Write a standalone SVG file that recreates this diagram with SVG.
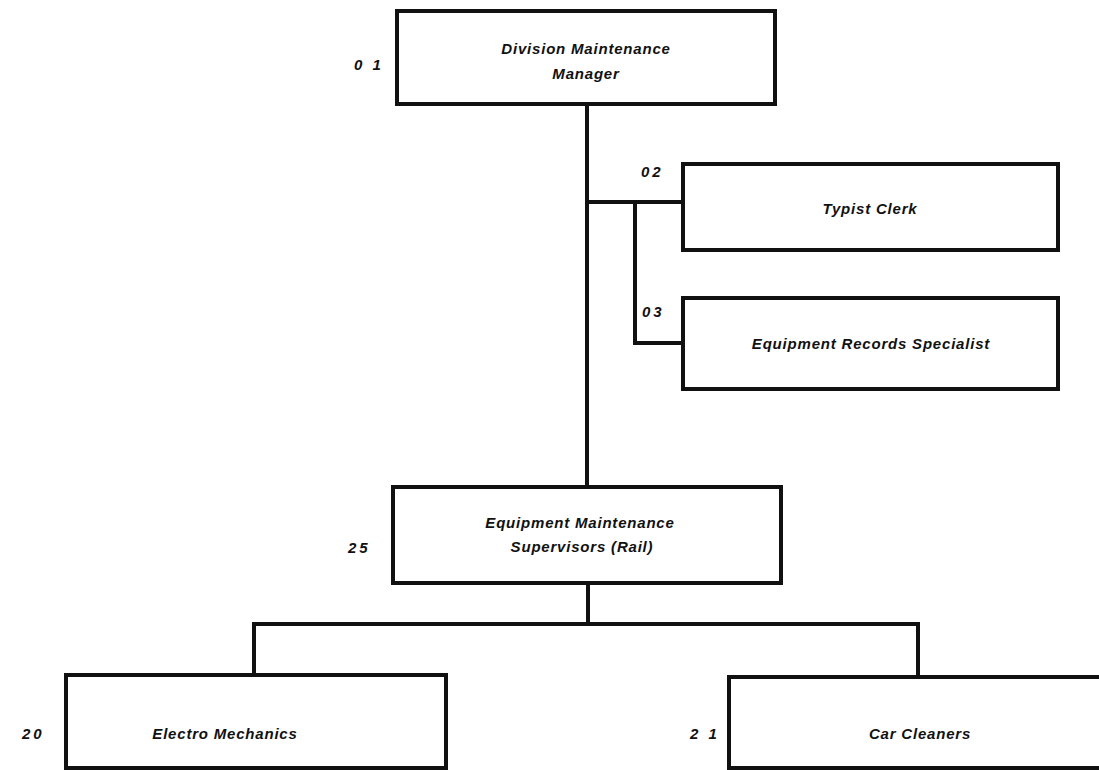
<svg xmlns="http://www.w3.org/2000/svg" width="1099" height="770" viewBox="0 0 1099 770">
  <style>
    .box { fill: #ffffff; stroke: #111111; stroke-width: 4; }
    .wire { fill: none; stroke: #111111; stroke-width: 4; stroke-linecap: square; }
    .title { font-family: "Liberation Sans", Arial, sans-serif; font-weight: bold; font-style: italic; font-size: 15px; fill: #111111; text-anchor: middle; letter-spacing: 0.8px; }
    .code { font-family: "Liberation Sans", Arial, sans-serif; font-weight: bold; font-style: italic; font-size: 15px; fill: #111111; letter-spacing: 3px; }
  </style>
  <rect width="1099" height="770" fill="#ffffff"/>

  <!-- reporting lines -->
  <g id="connectors">
    <path class="wire" d="M587,104 V487"/>
    <path class="wire" d="M587,202 H683"/>
    <path class="wire" d="M635,202 V343 H683"/>
    <path class="wire" d="M588,583 V624"/>
    <path class="wire" d="M254,624 H918"/>
    <path class="wire" d="M254,624 V675"/>
    <path class="wire" d="M918,624 V677"/>
  </g>

  <g id="node-01">
    <rect class="box" x="397" y="11" width="378" height="93"/>
    <text class="title" x="586" y="54">Division Maintenance</text>
    <text class="title" x="586" y="79">Manager</text>
    <text class="code" x="354" y="70">0 1</text>
  </g>

  <g id="node-02">
    <rect class="box" x="683" y="164" width="375" height="86"/>
    <text class="title" x="870" y="214">Typist  Clerk</text>
    <text class="code" x="641" y="177">02</text>
  </g>

  <g id="node-03">
    <rect class="box" x="683" y="298" width="375" height="91"/>
    <text class="title" x="871" y="349">Equipment Records Specialist</text>
    <text class="code" x="642" y="317">03</text>
  </g>

  <g id="node-25">
    <rect class="box" x="393" y="487" width="388" height="96"/>
    <text class="title" x="580" y="528">Equipment Maintenance</text>
    <text class="title" x="582" y="552">Supervisors (Rail)</text>
    <text class="code" x="348" y="553">25</text>
  </g>

  <g id="node-20">
    <rect class="box" x="66" y="675" width="380" height="93"/>
    <text class="title" x="225" y="739">Electro Mechanics</text>
    <text class="code" x="22" y="739">20</text>
  </g>

  <g id="node-21">
    <rect class="box" x="729" y="677" width="390" height="91"/>
    <text class="title" x="920" y="739">Car Cleaners</text>
    <text class="code" x="690" y="739">2 1</text>
  </g>
</svg>
